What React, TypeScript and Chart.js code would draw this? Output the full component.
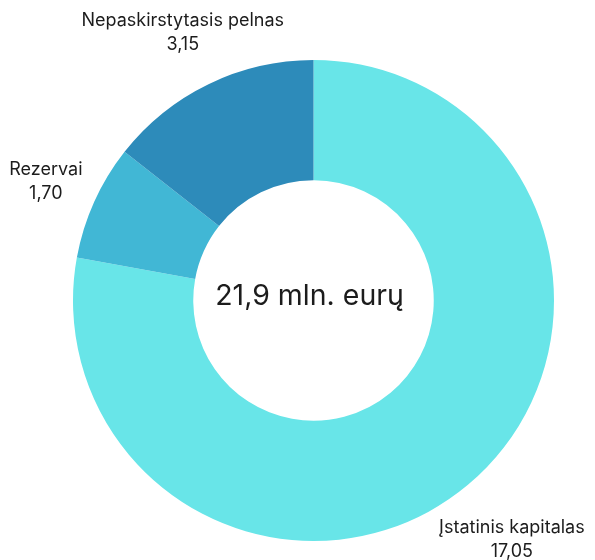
import React, { useEffect, useRef } from "react";
import { Chart, registerables } from "chart.js";

Chart.register(...registerables);

const categories = ["Įstatinis kapitalas", "Rezervai", "Nepaskirstytasis pelnas"];
const values = [17.05, 1.7, 3.15];
const colors = ["#68E5E8", "#41B7D5", "#2D8BBA"];
const centerUnit = "mln. eurų";

const FONT = "Inter, 'Noto Sans', sans-serif";
const TEXT_COLOR = "#1c1c1c";

const fmt = (v: number, d: number) => v.toFixed(d).replace(".", ",");

const labelPlugin = {
  id: "outerLabels",
  afterDatasetsDraw(chart: any) {
    const ctx = chart.ctx as CanvasRenderingContext2D;
    const meta = chart.getDatasetMeta(0);
    const labels = chart.data.labels as string[];
    const data = chart.data.datasets[0].data as number[];
    const fontSize = 18;
    const lineGap = 24;
    const capH = fontSize * 0.727;
    const gap = 12;
    ctx.save();
    ctx.font = `${fontSize}px ${FONT}`;
    ctx.fillStyle = TEXT_COLOR;
    ctx.textAlign = "center";
    ctx.textBaseline = "alphabetic";
    meta.data.forEach((arc: any, i: number) => {
      const p = arc.getProps(["x", "y", "startAngle", "endAngle", "outerRadius"], true);
      const mid = (p.startAngle + p.endAngle) / 2;
      const dx = Math.cos(mid);
      const dy = Math.sin(mid);
      const lines = [labels[i], fmt(data[i], 2)];
      const w = Math.max(...lines.map((l) => ctx.measureText(l).width));
      const h = lineGap + capH;
      const cx = -Math.sign(dx) * (w / 2);
      const cy = -Math.sign(dy) * (h / 2);
      const D = p.outerRadius + gap;
      const dc = dx * cx + dy * cy;
      const t = -dc + Math.sqrt(dc * dc - (cx * cx + cy * cy) + D * D);
      const X = p.x + t * dx;
      const Y = p.y + t * dy;
      const top = Y - h / 2;
      ctx.fillText(lines[0], X, top + capH);
      ctx.fillText(lines[1], X, top + capH + lineGap);
    });
    // center text
    const arc0 = meta.data[0];
    if (arc0) {
      const c = arc0.getProps(["x", "y"], true);
      const total = data.reduce((a, b) => a + b, 0);
      const cs = 28.5;
      ctx.font = `${cs}px ${FONT}`;
      ctx.fillText(`${fmt(total, 1)} ${centerUnit}`, c.x - 4, c.y + cs * 0.16);
    }
    ctx.restore();
  },
};

export default function App() {
  const ref = useRef<HTMLCanvasElement | null>(null);
  useEffect(() => {
    if (!ref.current) return;
    const chart = new Chart(ref.current, {
      type: "doughnut",
      data: {
        labels: categories,
        datasets: [
          {
            data: values,
            backgroundColor: colors,
            borderWidth: 0,
          },
        ],
      },
      options: {
        responsive: false,
        animation: false,
        cutout: "50%",
        layout: { padding: { left: 73, right: 41, top: 60, bottom: 19 } },
        plugins: {
          legend: { display: false },
          tooltip: { enabled: false },
        },
      },
      plugins: [labelPlugin],
    });
    return () => chart.destroy();
  }, []);
  return (
    <div style={{ position: "absolute", left: 0, top: 0, width: 595, height: 560, background: "#fff" }}>
      <canvas ref={ref} width={595} height={560} style={{ display: "block" }} />
    </div>
  );
}
